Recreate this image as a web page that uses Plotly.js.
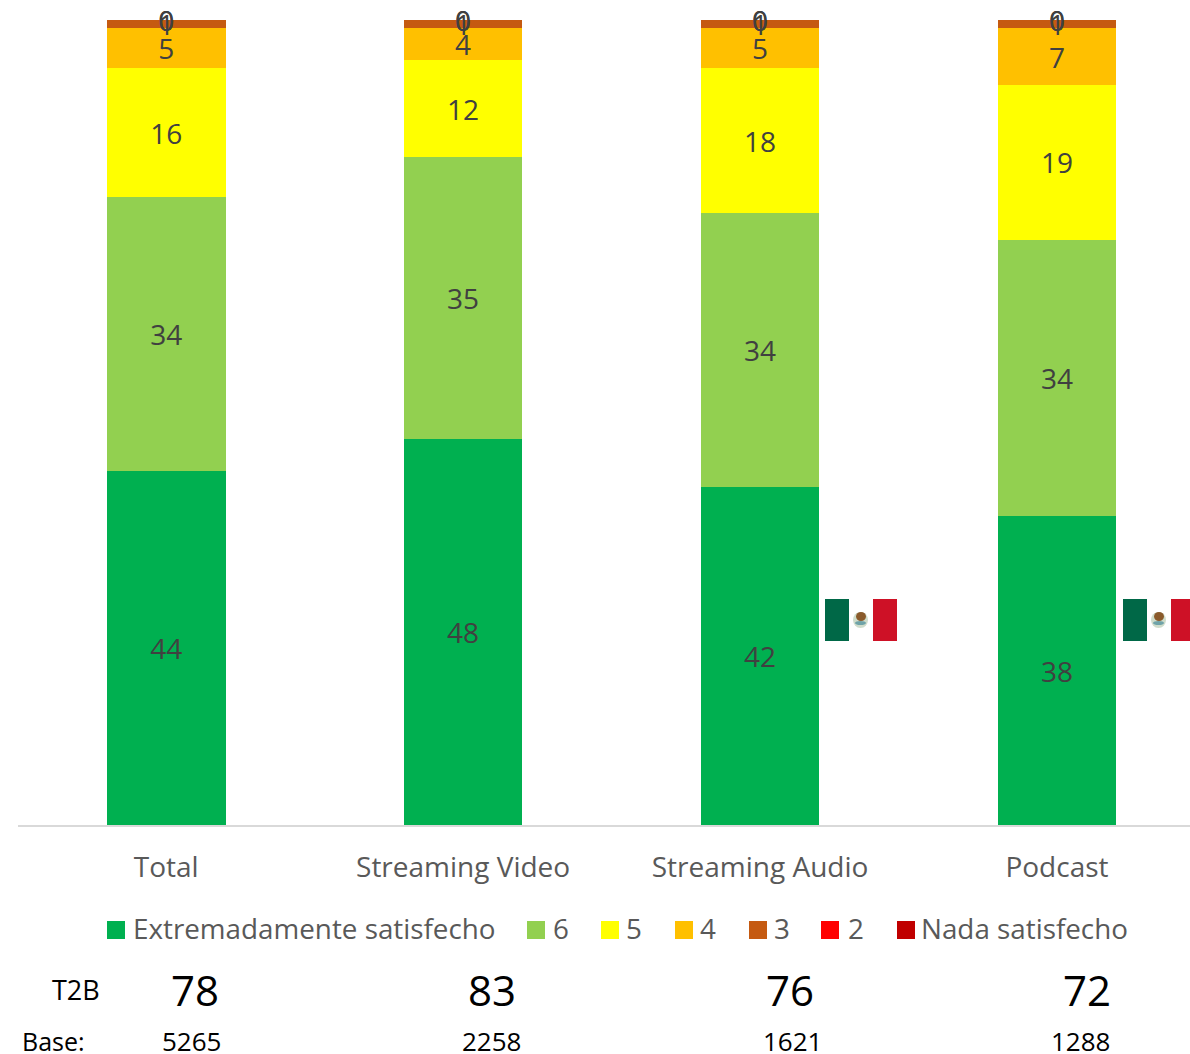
<!DOCTYPE html>
<html>
<head>
<meta charset="utf-8">
<script src="https://cdn.plot.ly/plotly-3.0.1.min.js"></script>
<style>html,body{margin:0;padding:0;background:#fff;overflow:hidden}</style>
</head>
<body>
<div id="chart" style="width:1190px;height:1054px"></div>
<script>
// Satisfaction scores by medium (rows run from the bottom of each stack to the top)
const categories = ["Total", "Streaming Video", "Streaming Audio", "Podcast"];
const extremely = [44, 48, 42, 38];
const six = [34, 35, 34, 34];
const five = [16, 12, 18, 19];
const four = [5, 4, 5, 7];
const three = [1, 1, 1, 1];
const two = [0, 0, 0, 0];
const none = [0, 0, 0, 0];
const t2b = [78, 83, 76, 72];
const bases = [5265, 2258, 1621, 1288];

const seriesNames = ["Extremadamente satisfecho", "6", "5", "4", "3", "2", "Nada satisfecho"];
const seriesValues = [extremely, six, five, four, three, two, none];
const seriesColors = ["#00B050", "#92D050", "#FFFF00", "#FFC000", "#C55A11", "#FF0000", "#C00000"];

// Page geometry, in pixels
const W = 1190, H = 1054;
const plot = {l: 18, r: 1190, t: 20, b: 825};
const fx = px => (px - plot.l) / (plot.r - plot.l);
const fy = py => (plot.b - py) / (plot.b - plot.t);

const FONT = "'Open Sans', 'Noto Sans', sans-serif";

const traces = seriesValues.map((vals, i) => ({
  type: "bar", x: categories, y: vals, name: seriesNames[i],
  marker: {color: seriesColors[i], line: {width: 0}},
  width: 0.4, showlegend: false, hoverinfo: "skip"
}));

// Value labels sit at the middle of each segment, zero-height ones included;
// the small drop centres the digits optically on the segment.
const labelDrop = 0.5;
const totals = categories.map((_, c) => seriesValues.reduce((s, v) => s + v[c], 0));
const running = categories.map(() => 0);
seriesValues.forEach(vals => {
  const mids = vals.map((v, c) => {
    const m = running[c] + v / 2;
    running[c] += v;
    return m / totals[c] * 100 - labelDrop;
  });
  traces.push({
    type: "scatter", mode: "text", x: categories, y: mids,
    text: vals.map(String), textposition: "middle center",
    textfont: {family: FONT, size: 28, color: "#404040"},
    showlegend: false, hoverinfo: "skip", cliponaxis: false
  });
});

const shapes = [], annotations = [];

function rect(x0, y0, x1, y1, color) {
  shapes.push({type: "rect", xref: "paper", yref: "paper",
    x0: fx(x0), x1: fx(x1), y0: fy(y1), y1: fy(y0),
    fillcolor: color, line: {width: 0}});
}
function disc(cx, cy, rx, ry, color) {
  shapes.push({type: "circle", xref: "paper", yref: "paper",
    x0: fx(cx - rx), x1: fx(cx + rx), y0: fy(cy + ry), y1: fy(cy - ry),
    fillcolor: color, line: {width: 0}});
}
function label(text, px, py, size, color, anchor) {
  annotations.push({text, xref: "paper", yref: "paper", x: fx(px), y: fy(py),
    xanchor: anchor || "center", yanchor: "middle", showarrow: false,
    font: {family: FONT, size, color}});
}

// Legend row
const legendSwatchX = [107, 527, 601, 675, 749, 821, 897];
const legendTextX = [131, 551, 624, 698, 772, 846, 919];
seriesNames.forEach((name, i) => {
  rect(legendSwatchX[i], 921, legendSwatchX[i] + 18, 939, seriesColors[i]);
  label(name, legendTextX[i], 927.5, 27.8, "#595959", "left");
});

// Mexican flags next to the two audio media
function flag(x, y) {
  rect(x, y, x + 24, y + 42, "#006847");
  rect(x + 24, y, x + 48, y + 42, "#FFFFFF");
  rect(x + 48, y, x + 72, y + 42, "#CE1126");
  disc(x + 35.5, y + 21, 7.5, 8, "#CFDCCB");
  disc(x + 36, y + 17.5, 5, 4.5, "#8A5A2B");
  disc(x + 35.5, y + 24, 5.5, 2, "#6FA3A8");
}
flag(825, 599);
flag(1123, 599);

// Summary rows under the chart
const t2bX = [194.5, 491.5, 789.5, 1087];
const baseX = [191.5, 491, 792, 1080.5];
label("T2B", 76, 989, 27, "#000000");
label("Base:", 53.5, 1041, 25, "#000000");
t2b.forEach((v, i) => label(String(v), t2bX[i], 989, 42, "#000000"));
bases.forEach((v, i) => label(String(v), baseX[i], 1041, 26, "#000000"));

const layout = {
  width: W, height: H,
  margin: {l: plot.l, r: W - plot.r, t: plot.t, b: H - plot.b, pad: 0},
  paper_bgcolor: "#FFFFFF", plot_bgcolor: "#FFFFFF",
  barmode: "stack", barnorm: "percent",
  showlegend: false, hovermode: false,
  xaxis: {
    type: "category", categoryorder: "array", categoryarray: categories,
    range: [-0.499, 3.448], fixedrange: true,
    showline: true, linecolor: "#D9D9D9", linewidth: 2,
    showgrid: false, zeroline: false, ticks: "",
    ticklabelstandoff: 16,
    tickfont: {family: FONT, size: 28, color: "#595959"}
  },
  yaxis: {range: [0, 100], visible: false, fixedrange: true},
  shapes, annotations
};

Plotly.newPlot("chart", traces, layout, {displayModeBar: false, staticPlot: true});
</script>
</body>
</html>
